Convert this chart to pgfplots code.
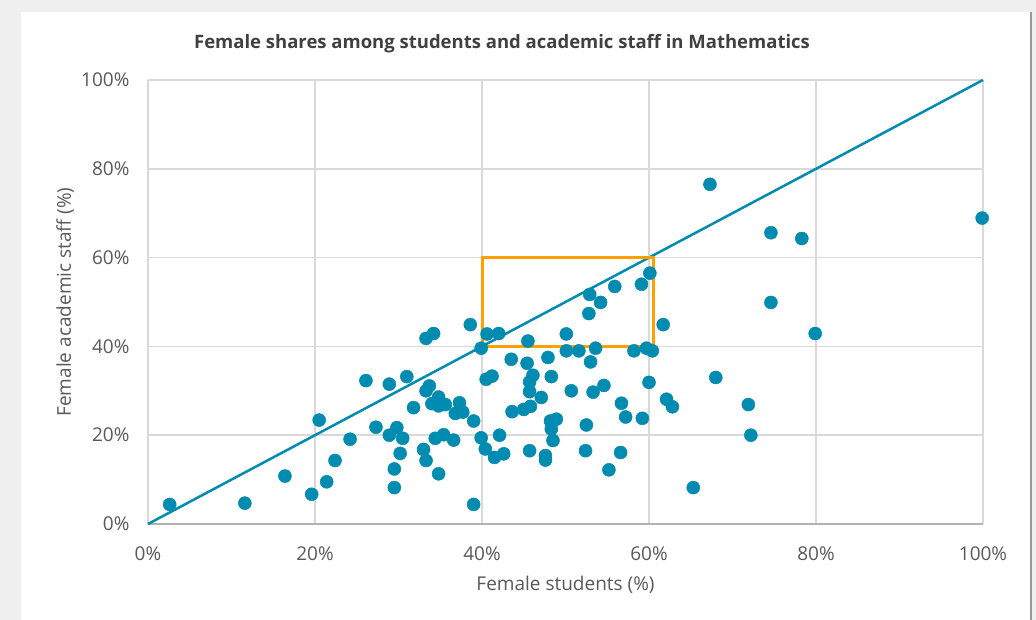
\documentclass[border=0pt]{standalone}
\usepackage{fontspec}
\setmainfont{Open Sans}
\usepackage{pgfplots}
\pgfplotsset{compat=1.18}
\usepackage{pgfplotstable}

\definecolor{dotcol}{RGB}{0,140,176}
\definecolor{boxcol}{RGB}{255,160,0}
\definecolor{gridcol}{RGB}{217,217,217}
\definecolor{txtcol}{RGB}{89,89,89}
\definecolor{titlecol}{RGB}{64,64,64}
\definecolor{bgcol}{RGB}{240,240,240}

% female students (%) vs female academic staff (%)
\pgfplotstableread{
x y
2.6 4.4
11.6 4.7
16.4 10.8
19.6 6.7
20.5 23.4
21.4 9.5
22.4 14.3
24.2 19.1
26.1 32.3
27.3 21.8
28.9 31.5
28.9 20.0
29.8 21.7
30.5 19.3
30.2 15.9
29.5 12.4
29.5 8.2
31.0 33.2
31.8 26.2
33.3 41.8
34.2 42.9
38.6 44.9
33.7 31.1
33.3 30.0
34.8 28.6
34.0 27.1
34.8 26.6
35.6 26.9
37.3 27.3
36.8 24.9
37.7 25.2
39.0 23.2
34.4 19.3
35.4 20.1
36.6 18.9
33.0 16.8
33.3 14.3
34.8 11.3
39.0 4.4
39.9 19.4
40.4 16.9
41.5 15.0
42.6 15.8
42.1 20.0
40.5 32.6
41.2 33.3
39.9 39.6
40.6 42.8
42.0 42.9
45.5 41.2
50.1 42.8
50.1 39.0
51.6 39.0
53.6 39.6
53.0 36.5
58.2 39.0
59.7 39.6
60.4 39.0
61.7 44.9
60.1 56.5
59.1 54.0
55.9 53.5
52.9 51.7
54.2 49.9
52.8 47.4
43.5 37.1
45.4 36.2
47.9 37.5
48.3 33.2
46.1 33.5
45.7 32.0
45.7 29.8
47.1 28.5
50.7 30.0
53.3 29.7
54.6 31.2
60.0 31.9
56.7 27.2
57.2 24.1
59.2 23.8
62.1 28.1
62.8 26.4
43.6 25.3
45.0 25.8
45.8 26.5
48.2 23.2
48.9 23.6
48.3 21.4
48.5 18.8
52.5 22.3
45.7 16.5
47.6 15.4
47.6 14.4
52.4 16.5
56.6 16.1
55.2 12.2
65.3 8.2
67.3 76.5
74.6 65.6
78.3 64.3
99.9 68.9
74.6 49.9
79.9 42.9
68.0 33.0
71.9 26.9
72.2 20.0
}\mathdata

\begin{document}
\begin{tikzpicture}
\useasboundingbox (0,0) rectangle (1036pt,620pt);
\fill[bgcol] (0,0) rectangle (1036pt,620pt);
\fill[white] (21pt,0) rectangle (1030pt,608pt);
\draw[line width=2.5pt, black!40] (1031pt,0) -- (1031pt,608pt);
\begin{axis}[
    at={(148pt,96pt)}, anchor=origin,
    scale only axis,
    width=835pt, height=444pt,
    xmin=0, xmax=100, ymin=0, ymax=100,
    clip=false,
    axis line style={draw=none},
    grid=major,
    major grid style={gridcol, line width=1.5pt},
    tick style={draw=none},
    xtick={0,20,...,100}, ytick={0,20,...,100},
    xticklabels={0\%,20\%,40\%,60\%,80\%,100\%},
    yticklabels={0\%,20\%,40\%,60\%,80\%,100\%},
    ticklabel style={font=\fontsize{19}{22}\selectfont, text=txtcol},
    xticklabel style={yshift=-19pt},
    yticklabel style={xshift=-15pt},
    xlabel={Female students (\%)},
    ylabel={Female academic staff (\%)},
    label style={font=\fontsize{19}{22}\selectfont, text=txtcol},
    xlabel style={at={(axis description cs:0.5,0)}, anchor=center, yshift=-61pt},
    ylabel style={at={(axis description cs:0,0.5)}, anchor=center, yshift=83pt},
    title={Female shares among students and academic staff in Mathematics},
    title style={at={(axis description cs:0.424,1)}, anchor=center, yshift=30pt,
        font=\fontsize{18.5}{22}\bfseries, text=titlecol},
]
\draw[black!30, line width=1.5pt] (axis cs:0,0) -- (axis cs:100,0);
\addplot[dotcol, line width=2.5pt, no marks] coordinates {(0,0) (100,100)};
\addplot[boxcol, line width=3pt, no marks] coordinates {(40,40) (60.5,40) (60.5,60) (40,60) (40,40)};
\addplot[dotcol, only marks, mark=*, mark size=6.5pt, mark options={solid, fill=dotcol, draw=dotcol, line width=0.5pt}] table[x=x,y=y] {\mathdata};
\end{axis}
\end{tikzpicture}
\end{document}
